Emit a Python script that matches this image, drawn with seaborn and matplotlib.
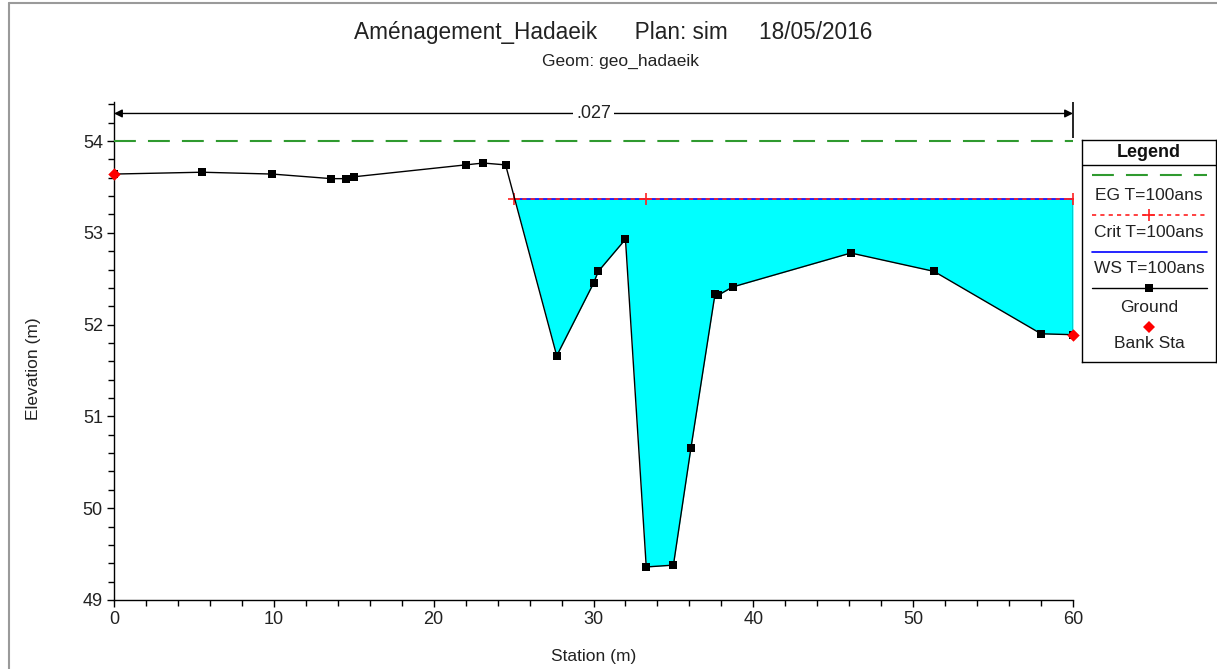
import numpy as np
import matplotlib
matplotlib.use("Agg")
import matplotlib.pyplot as plt
import seaborn as sns
from matplotlib.lines import Line2D

# ---------------- data ----------------
station = [0.0, 5.5, 9.9, 13.6, 14.5, 15.0, 22.0, 23.1, 24.5, 27.7, 30.0, 30.3,
           32.0, 33.3, 35.0, 36.1, 37.6, 37.8, 38.7, 46.1, 51.3, 58.0, 60.0]
elevation = [53.64, 53.66, 53.64, 53.59, 53.59, 53.61, 53.74, 53.76, 53.74, 51.66,
             52.45, 52.58, 52.93, 49.36, 49.38, 50.66, 52.33, 52.32, 52.41, 52.78,
             52.58, 51.90, 51.89]
bank_station = [0.0, 60.0]
bank_elevation = [53.64, 51.89]
eg_station = [0.0, 60.0]
eg_elevation = [54.0, 54.0]
ws_station = [25.0, 60.0]
ws_elevation = [53.37, 53.37]
crit_station = [25.0, 33.3, 60.0]
crit_elevation = [53.37, 53.37, 53.37]
n_value = ".027"
n_range = [0.0, 60.0]
n_level = 54.30
n_bar_bottom = 54.03

title = "Aménagement_Hadaeik      Plan: sim     18/05/2016"
subtitle = "Geom: geo_hadaeik"
legend_labels = ["EG T=100ans", "Crit T=100ans", "WS T=100ans", "Ground", "Bank Sta"]

# ---------------- style ----------------
sns.set_theme(style="white")
plt.rcParams["font.family"] = ["Liberation Sans", "DejaVu Sans"]

W, H = 1217, 669
fig = plt.figure(figsize=(W / 100, H / 100), dpi=100)
fig.patch.set_facecolor("white")


def fx(px):
    return px / W


def fy(py):
    return 1 - py / H


ax = fig.add_axes([fx(114), fy(600), (1073 - 114) / W, (600 - 102) / H])
ax.set_facecolor("white")

RED = "#ff2020"
GREEN = "#2f9a2f"

# water fill
ws_lvl = ws_elevation[0]
x_fill = [ws_station[0]] + [s for s in station if s > ws_station[0]]
y_fill = np.interp(x_fill, station, elevation)
ax.fill_between(x_fill, y_fill, ws_lvl, color="#00FFFF", lw=0, zorder=1)
ax.vlines(station[-1], elevation[-1], ws_lvl, color="black", lw=1, zorder=2)

# EG line
sns.lineplot(x=eg_station, y=eg_elevation, ax=ax, color=GREEN, lw=1.5,
             linestyle=(0, (10.5, 5.8)), zorder=3)
# WS line
sns.lineplot(x=ws_station, y=ws_elevation, ax=ax, color="#0000ff", lw=1.2, zorder=3)
# Crit line
sns.lineplot(x=crit_station, y=crit_elevation, ax=ax, color=RED, lw=1.2,
             linestyle=(0, (2.5, 2.5)), marker="+", markersize=8,
             markeredgewidth=1.2, markeredgecolor=RED, zorder=4)
# Ground
sns.lineplot(x=station, y=elevation, ax=ax, sort=False, estimator=None,
             color="black", lw=1, marker="s", markersize=5.5,
             markeredgewidth=0, markeredgecolor="black", zorder=5)
# Bank stations
sns.scatterplot(x=bank_station, y=bank_elevation, ax=ax, color="#ff0000",
                marker="D", s=40, linewidth=0, zorder=6, clip_on=False)

# Manning n annotation
ax.annotate("", xy=(n_range[0], n_level), xytext=(n_range[1], n_level),
            arrowprops=dict(arrowstyle="<|-|>", color="black", lw=1,
                            mutation_scale=12, shrinkA=0, shrinkB=0),
            annotation_clip=False)
ax.vlines(n_range[1], n_bar_bottom, 54.425, color="black", lw=1.2, clip_on=False)
ax.text(sum(n_range) / 2, n_level, n_value, ha="center", va="center", fontsize=13,
        color="#222222", bbox=dict(facecolor="white", edgecolor="none", pad=2))

# axes
ax.set_xlim(0, 60)
ax.set_ylim(49, 54.425)
ax.set_xticks(np.arange(0, 61, 10))
ax.set_xticks(np.arange(0, 61, 2), minor=True)
ax.set_yticks(np.arange(49, 55, 1))
ax.set_yticks(np.arange(49, 54.41, 0.2), minor=True)
ax.tick_params(which="both", direction="out", color="black", width=1,
               bottom=True, left=True)
ax.tick_params(which="major", length=5, labelsize=13, pad=3, labelcolor="#222222")
ax.tick_params(which="minor", length=4)
for side in ["top", "right"]:
    ax.spines[side].set_visible(False)
for side in ["left", "bottom"]:
    ax.spines[side].set_color("black")
    ax.spines[side].set_linewidth(1)
ax.set_xlabel("Station (m)", fontsize=12.5, color="#222222")
ax.set_ylabel("Elevation (m)", fontsize=12.5, color="#222222")
ax.xaxis.set_label_coords(0.5, -0.098)
ax.yaxis.set_label_coords(-0.076, 0.464)
ax.grid(False)

# titles
fig.text(fx(613), fy(33), title, ha="center", va="center", fontsize=16.3, color="#222222")
fig.text(fx(621), fy(61), subtitle, ha="center", va="center", fontsize=12.5, color="#222222")

# window border
fig.add_artist(Line2D([fx(9), fx(9)], [0, fy(3)], transform=fig.transFigure,
                      color="#9a9a9a", lw=1.5))
fig.add_artist(Line2D([fx(9), 1], [fy(3), fy(3)], transform=fig.transFigure,
                      color="#9a9a9a", lw=1.5))

# legend box (pixel coordinates)
lax = fig.add_axes([fx(1082), fy(362), (1216 - 1082) / W, (362 - 140) / H])
lax.set_xlim(1082, 1216)
lax.set_ylim(362, 140)
lax.set_xticks([])
lax.set_yticks([])
for s in lax.spines.values():
    s.set_color("black")
    s.set_linewidth(1)
lax.set_facecolor("white")
lax.axhline(165, color="black", lw=1)
lax.text(1149, 152, "Legend", ha="center", va="center", fontsize=13,
         fontweight="bold", color="#111111")
lx = [1092, 1207]
lax.plot(lx, [175, 175], color=GREEN, lw=1.5, linestyle=(0, (10.5, 5.8)))
lax.plot(lx, [215, 215], color=RED, lw=1.2, linestyle=(0, (2.5, 2.5)))
lax.plot([1149], [215], color=RED, marker="+", markersize=8, markeredgewidth=1.2)
lax.plot(lx, [252, 252], color="#0000ff", lw=1.2)
lax.plot(lx, [288, 288], color="black", lw=1)
lax.plot([1149], [288], color="black", marker="s", markersize=5.5, markeredgewidth=0)
lax.plot([1149], [327], color="#ff0000", marker="D", markersize=6, markeredgewidth=0)
for lbl, yy in zip(legend_labels, [195, 232, 268, 307, 343]):
    lax.text(1149, yy, lbl, ha="center", va="center", fontsize=12.5, color="#222222")

fig.savefig("out.png", dpi=100, facecolor="white")
